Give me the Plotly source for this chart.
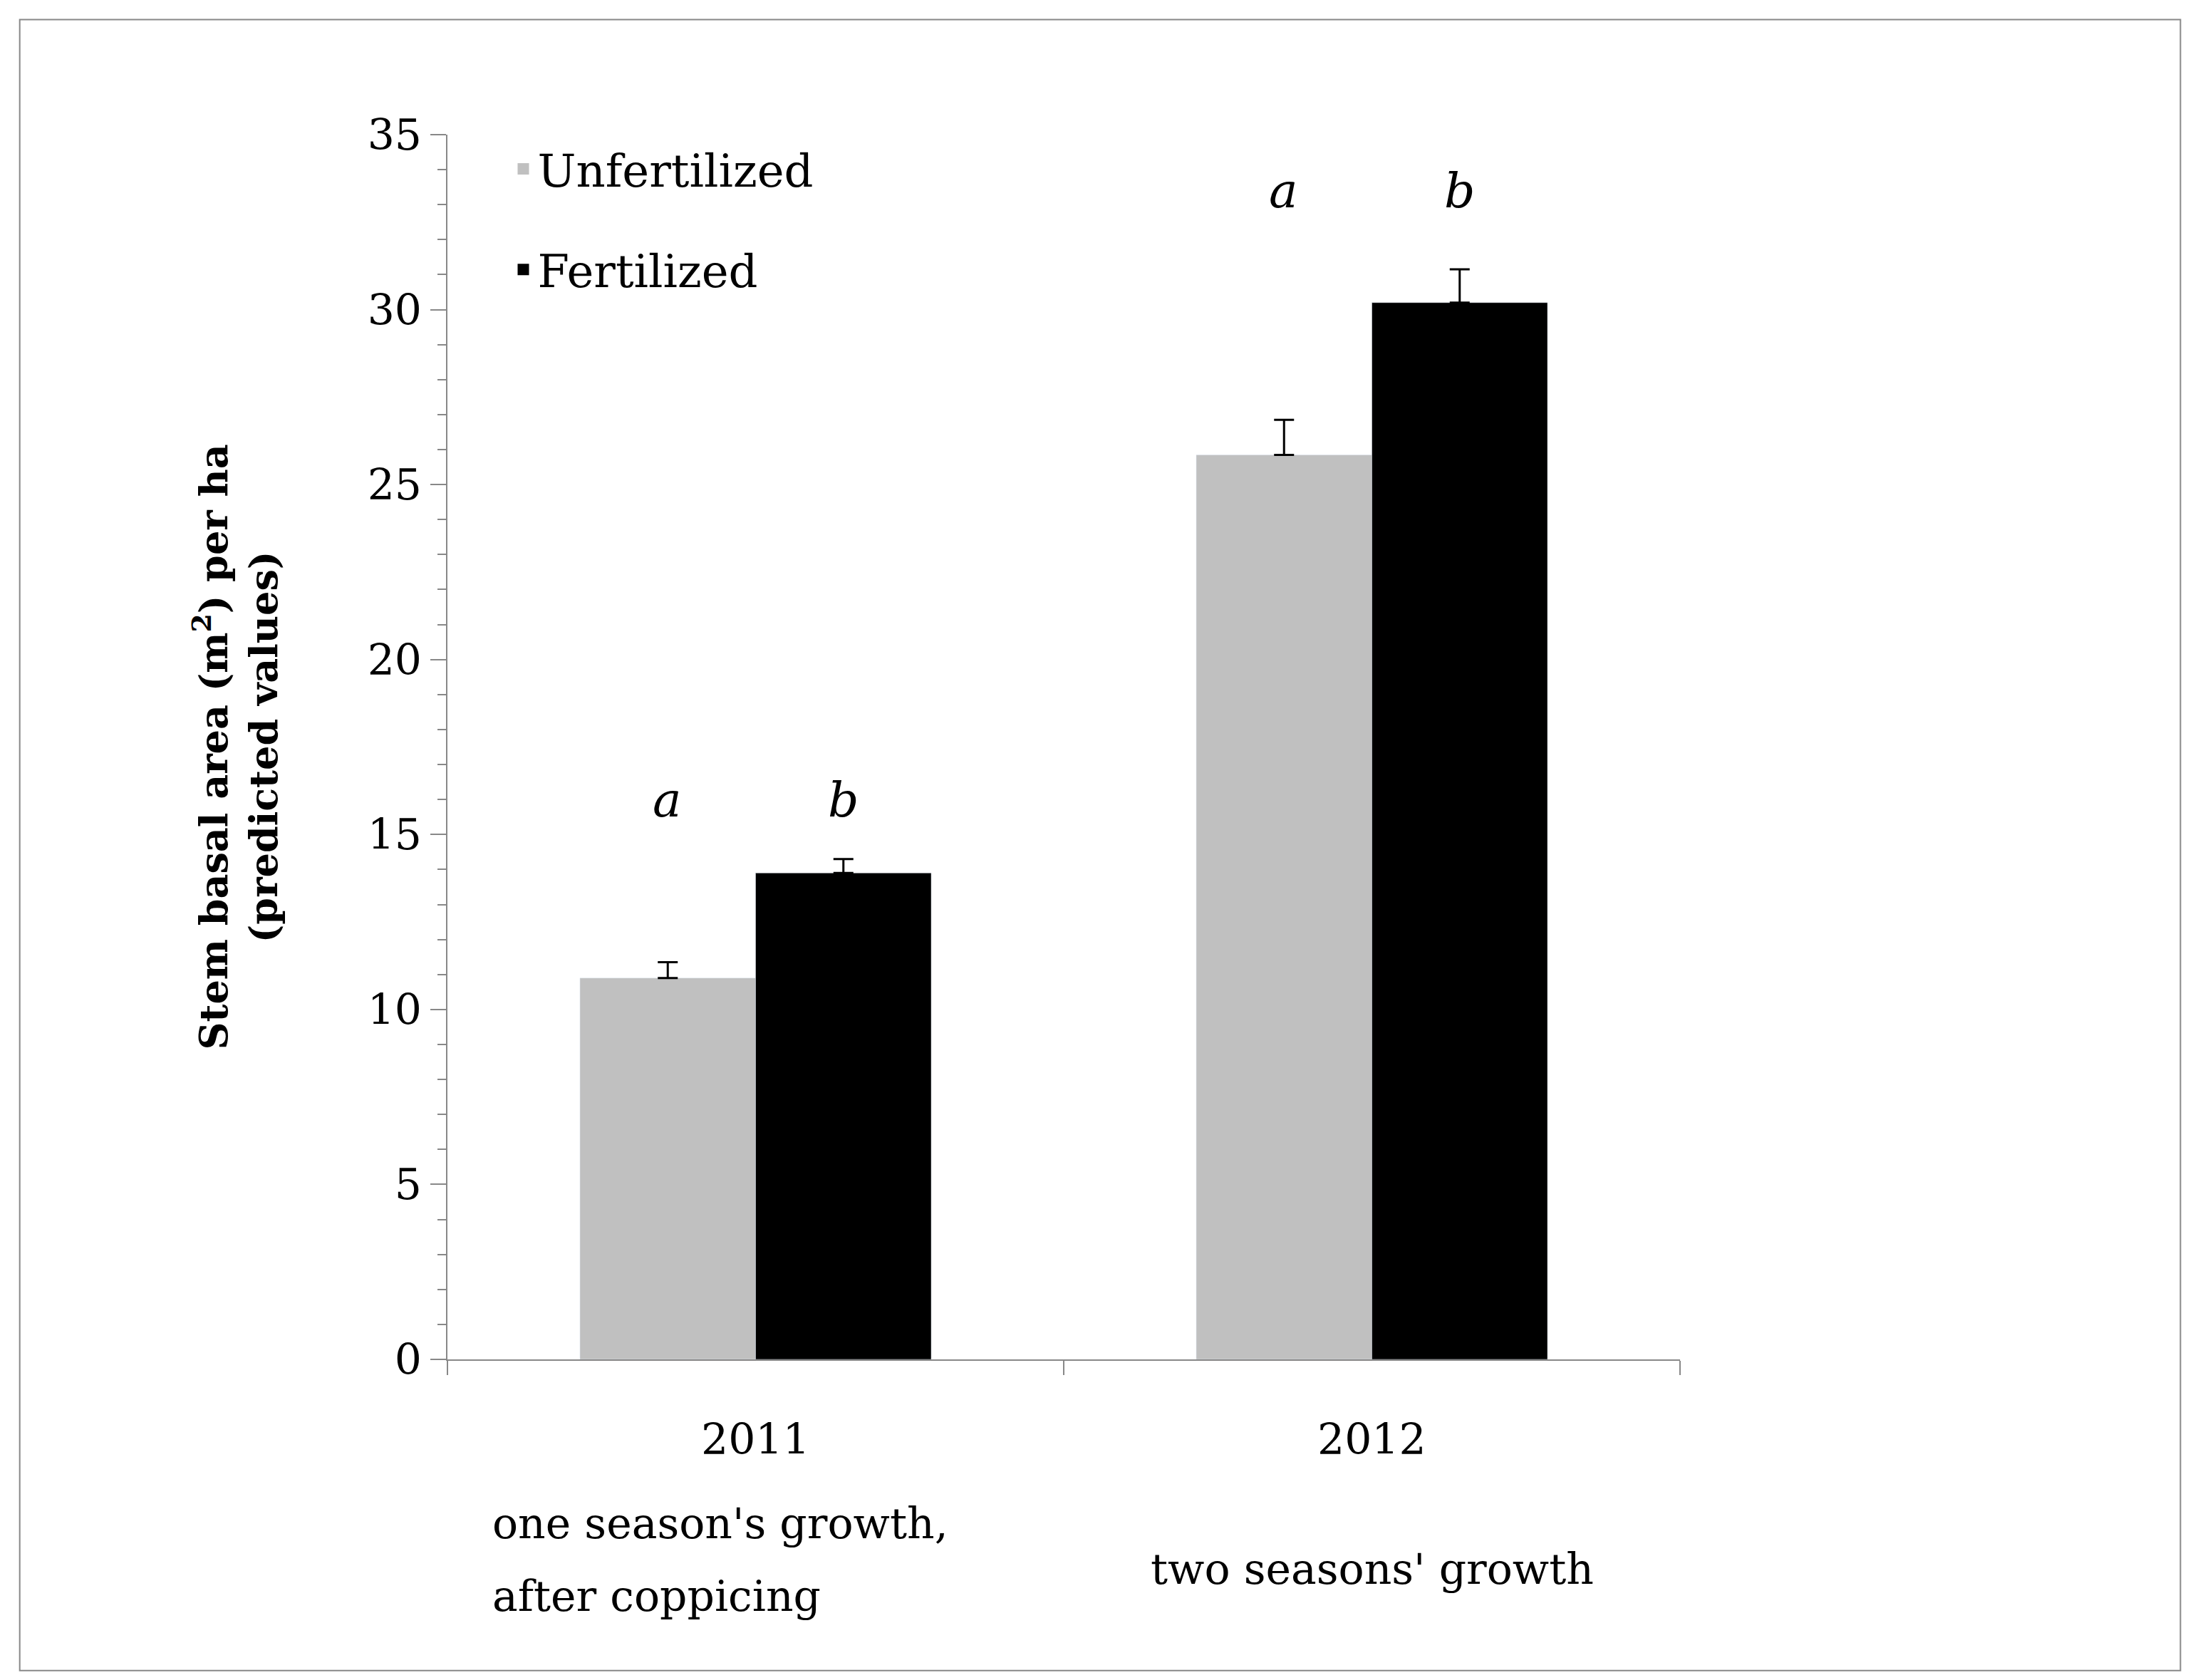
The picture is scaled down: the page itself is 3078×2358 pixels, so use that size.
import plotly.graph_objects as go

years = [0, 1]
unfert = [10.9, 25.85]
unfert_err = [0.45, 1.0]
fert = [13.9, 30.2]
fert_err = [0.4, 0.95]
letters_y = [16.0, 33.4]

font = "DejaVu Serif"
fig = go.Figure()
fig.add_trace(go.Bar(x=years, y=unfert, name="Unfertilized", marker_color="#c0c0c0", showlegend=False,
                     error_y=dict(type="data", symmetric=False, array=unfert_err, arrayminus=[0, 0],
                                  color="black", thickness=3, width=14)))
fig.add_trace(go.Bar(x=years, y=fert, name="Fertilized", marker_color="black", showlegend=False,
                     error_y=dict(type="data", symmetric=False, array=fert_err, arrayminus=[0, 0],
                                  color="black", thickness=3, width=14)))
# legend entries with square swatches
fig.add_trace(go.Scatter(x=[None], y=[None], mode="markers", name="Unfertilized", legendgroup="u",
                         marker=dict(symbol="square", size=40, color="#c0c0c0")))
fig.add_trace(go.Scatter(x=[None], y=[None], mode="markers", name="Fertilized", legendgroup="f",
                         marker=dict(symbol="square", size=40, color="black")))

ann = []
for i in range(2):
    ann.append(dict(x=years[i] - 0.143, y=letters_y[i], text="<i>a</i>", showarrow=False, font=dict(size=68)))
    ann.append(dict(x=years[i] + 0.143, y=letters_y[i], text="<i>b</i>", showarrow=False, font=dict(size=68)))

lab = [("2011", 0.25, -0.065, "center"), ("one season's growth,", 0.035, -0.134, "left"),
       ("after coppicing", 0.035, -0.193, "left"), ("2012", 0.75, -0.065, "center"),
       ("two seasons' growth", 0.75, -0.171, "center")]
for t, x, y, a in lab:
    ann.append(dict(x=x, y=y, xref="paper", yref="paper", text=t, xanchor=a, yanchor="middle",
                    showarrow=False, font=dict(size=60)))
ann.append(dict(x=-0.213, y=0.5, xref="paper", yref="paper", textangle=-90, showarrow=False,
                text="<b>Stem basal area (m<sup>2</sup>) per ha<br>(predicted values)</b>",
                font=dict(size=54)))

fig.update_layout(
    width=3078, height=2358, barmode="group", bargap=0.43, bargroupgap=0,
    plot_bgcolor="white", paper_bgcolor="white",
    font=dict(family=font, size=60, color="black"),
    margin=dict(l=620, r=728, t=181, b=458),
    legend=dict(x=0.05, y=1.0, xanchor="left", yanchor="top", font=dict(size=64),
                traceorder="grouped", tracegroupgap=55, itemwidth=30, bgcolor="rgba(0,0,0,0)"),
    annotations=ann,
    shapes=[dict(type="rect", xref="paper", yref="paper", x0=-0.347, x1=1.406, y0=-0.254, y1=1.094,
                 line=dict(color="#888888", width=2))],
)
fig.update_xaxes(range=[-0.5, 1.5], tickvals=[-0.5, 0.5, 1.5], showticklabels=False,
                 ticks="outside", ticklen=20, tickwidth=2, tickcolor="#888888",
                 showline=True, linecolor="#888888", linewidth=2, showgrid=False, zeroline=False)
fig.update_yaxes(range=[0, 35], dtick=5, ticks="outside", ticklen=22, tickwidth=2, tickcolor="#888888",
                 minor=dict(dtick=1, ticks="outside", ticklen=12, tickcolor="#888888", tickwidth=2),
                 showline=True, linecolor="#888888", linewidth=2, showgrid=False, zeroline=False,
                 tickfont=dict(size=60))

fig.write_html("out.html")
